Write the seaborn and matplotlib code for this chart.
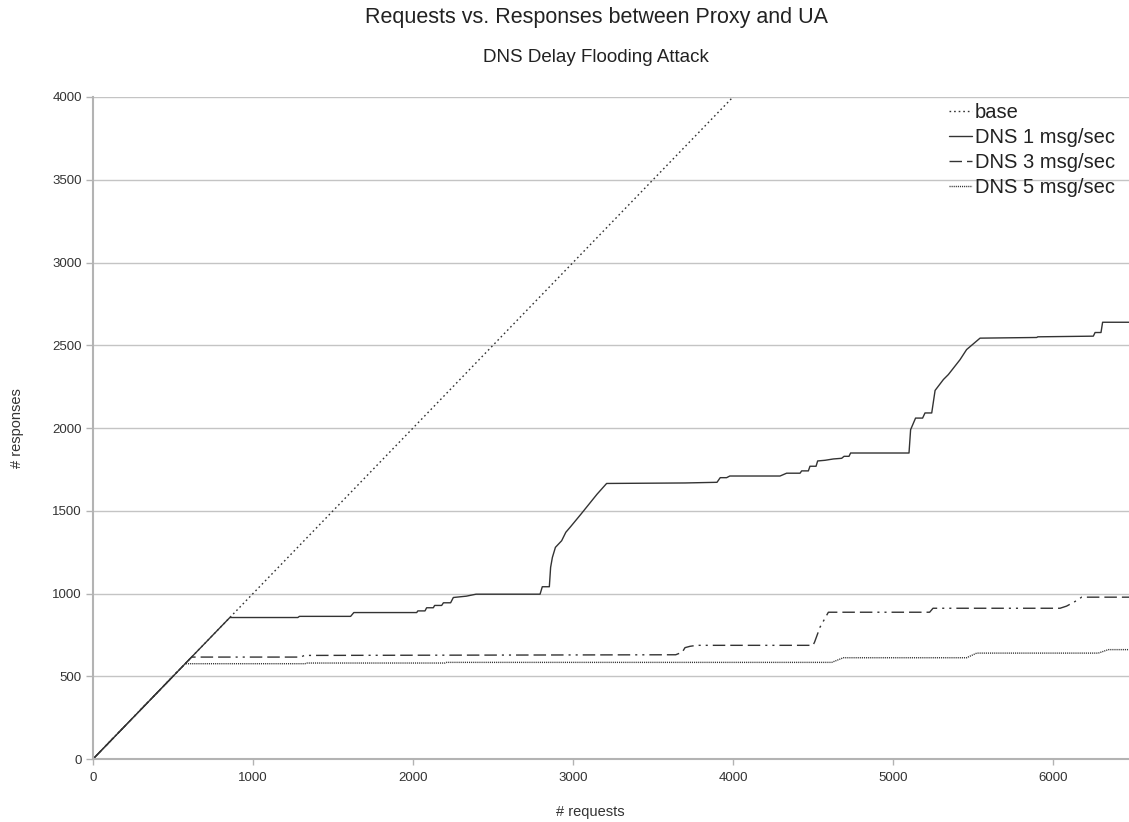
import pandas as pd
import seaborn as sns
import matplotlib.pyplot as plt

# data
base_x = [0, 6500]
base_y = [0, 6500]

dns1_x = [0, 855, 1280, 1290, 1610, 1630, 2023, 2030, 2075, 2085,
          2127, 2135, 2179, 2190, 2235, 2252, 2333, 2394, 2794, 2808,
          2852, 2860, 2871, 2890, 2929, 2955, 2985, 3050, 3100, 3150,
          3210, 3700, 3900, 3920, 3960, 3980, 4294, 4335, 4419, 4429,
          4471, 4481, 4519, 4529, 4575, 4627, 4679, 4694, 4725, 4735,
          5100, 5110, 5141, 5185, 5200, 5242, 5263, 5315, 5346, 5419,
          5460, 5544, 5898, 5905, 6252, 6263, 6300, 6310, 6500]
dns1_y = [0, 855, 855, 862, 862, 885, 885, 895, 895, 914,
          914, 928, 928, 944, 944, 976, 984, 996, 996, 1041,
          1041, 1158, 1218, 1279, 1319, 1370, 1404, 1480, 1540, 1600,
          1665, 1668, 1672, 1700, 1700, 1710, 1710, 1727, 1727, 1741,
          1741, 1769, 1769, 1801, 1805, 1813, 1817, 1829, 1829, 1849,
          1849, 1990, 2060, 2060, 2091, 2091, 2227, 2293, 2323, 2413,
          2474, 2543, 2547, 2551, 2555, 2577, 2577, 2639, 2639]

dns3_x = [0, 616, 1300, 1320, 3642, 3683, 3700, 3731, 3773, 4500,
          4510, 4544, 4596, 5229, 5250, 6044, 6085, 6138, 6179, 6500]
dns3_y = [0, 616, 616, 626, 630, 646, 673, 681, 687, 687,
          707, 797, 887, 887, 911, 911, 924, 952, 978, 978]

dns5_x = [0, 576, 1325, 1335, 2200, 2210, 4617, 4690, 5460, 5523,
          6283, 6346, 6500]
dns5_y = [0, 576, 576, 580, 580, 584, 584, 612, 612, 640,
          640, 661, 661]

series = [
    ("base", base_x, base_y, (0, (1.2, 2.1))),
    ("DNS 1 msg/sec", dns1_x, dns1_y, "-"),
    ("DNS 3 msg/sec", dns3_x, dns3_y,
     (0, (9, 3.6, 9, 3.6, 9, 3.6, 1.5, 3.6, 1.5, 3.6))),
    ("DNS 5 msg/sec", dns5_x, dns5_y, (0, (0.8, 0.7))),
]

sns.set_style("white")
plt.rcParams["font.family"] = ["Liberation Sans", "DejaVu Sans"]

fig = plt.figure(figsize=(11.29, 8.22), dpi=100)
ax = fig.add_axes([0.0824, 0.0766, 0.9176, 0.8054])

for label, xs, ys, ls in series:
    df = pd.DataFrame({"requests": xs, "responses": ys})
    sns.lineplot(data=df, x="requests", y="responses", ax=ax,
                 estimator=None, sort=False, color="#333333",
                 linewidth=1, linestyle=ls, label=label)

ax.set_xlim(0, 6475)
ax.set_ylim(0, 4000)
ax.set_xticks(range(0, 7000, 1000))
ax.set_yticks(range(0, 4500, 500))

ax.yaxis.grid(True, color="#c4c4c4", linewidth=1)
ax.xaxis.grid(False)
for side in ["top", "right"]:
    ax.spines[side].set_visible(False)
for side in ["left", "bottom"]:
    ax.spines[side].set_color("#b3b3b3")
    ax.spines[side].set_linewidth(1.5)

ax.tick_params(axis="both", color="#b3b3b3", width=1, labelcolor="#333333",
               labelsize=9.5, bottom=True, left=True)
ax.tick_params(axis="x", length=4.5, pad=5)
ax.tick_params(axis="y", length=5, pad=3)

ax.set_xlabel("# requests", fontsize=10.5, color="#333333")
ax.set_ylabel("# responses", fontsize=10.5, color="#333333")
ax.xaxis.set_label_coords(0.48, -0.07)
ax.yaxis.set_label_coords(-0.067, 0.5)

leg = ax.legend(loc="upper right", bbox_to_anchor=(1115 / 1129, 1 - 103 / 822),
                bbox_transform=fig.transFigure, frameon=False,
                fontsize=14.5, handlelength=1.15, handletextpad=0.15,
                labelspacing=0.3, borderpad=0, borderaxespad=0)
for t in leg.get_texts():
    t.set_color("#222222")

fig.text(0.528, 1 - 17 / 822, "Requests vs. Responses between Proxy and UA",
         ha="center", va="center", fontsize=15.5, color="#222222")
fig.text(0.528, 1 - 58 / 822, "DNS Delay Flooding Attack",
         ha="center", va="center", fontsize=13.5, color="#222222")

fig.savefig("out.png", dpi=100)
plt.close(fig)
